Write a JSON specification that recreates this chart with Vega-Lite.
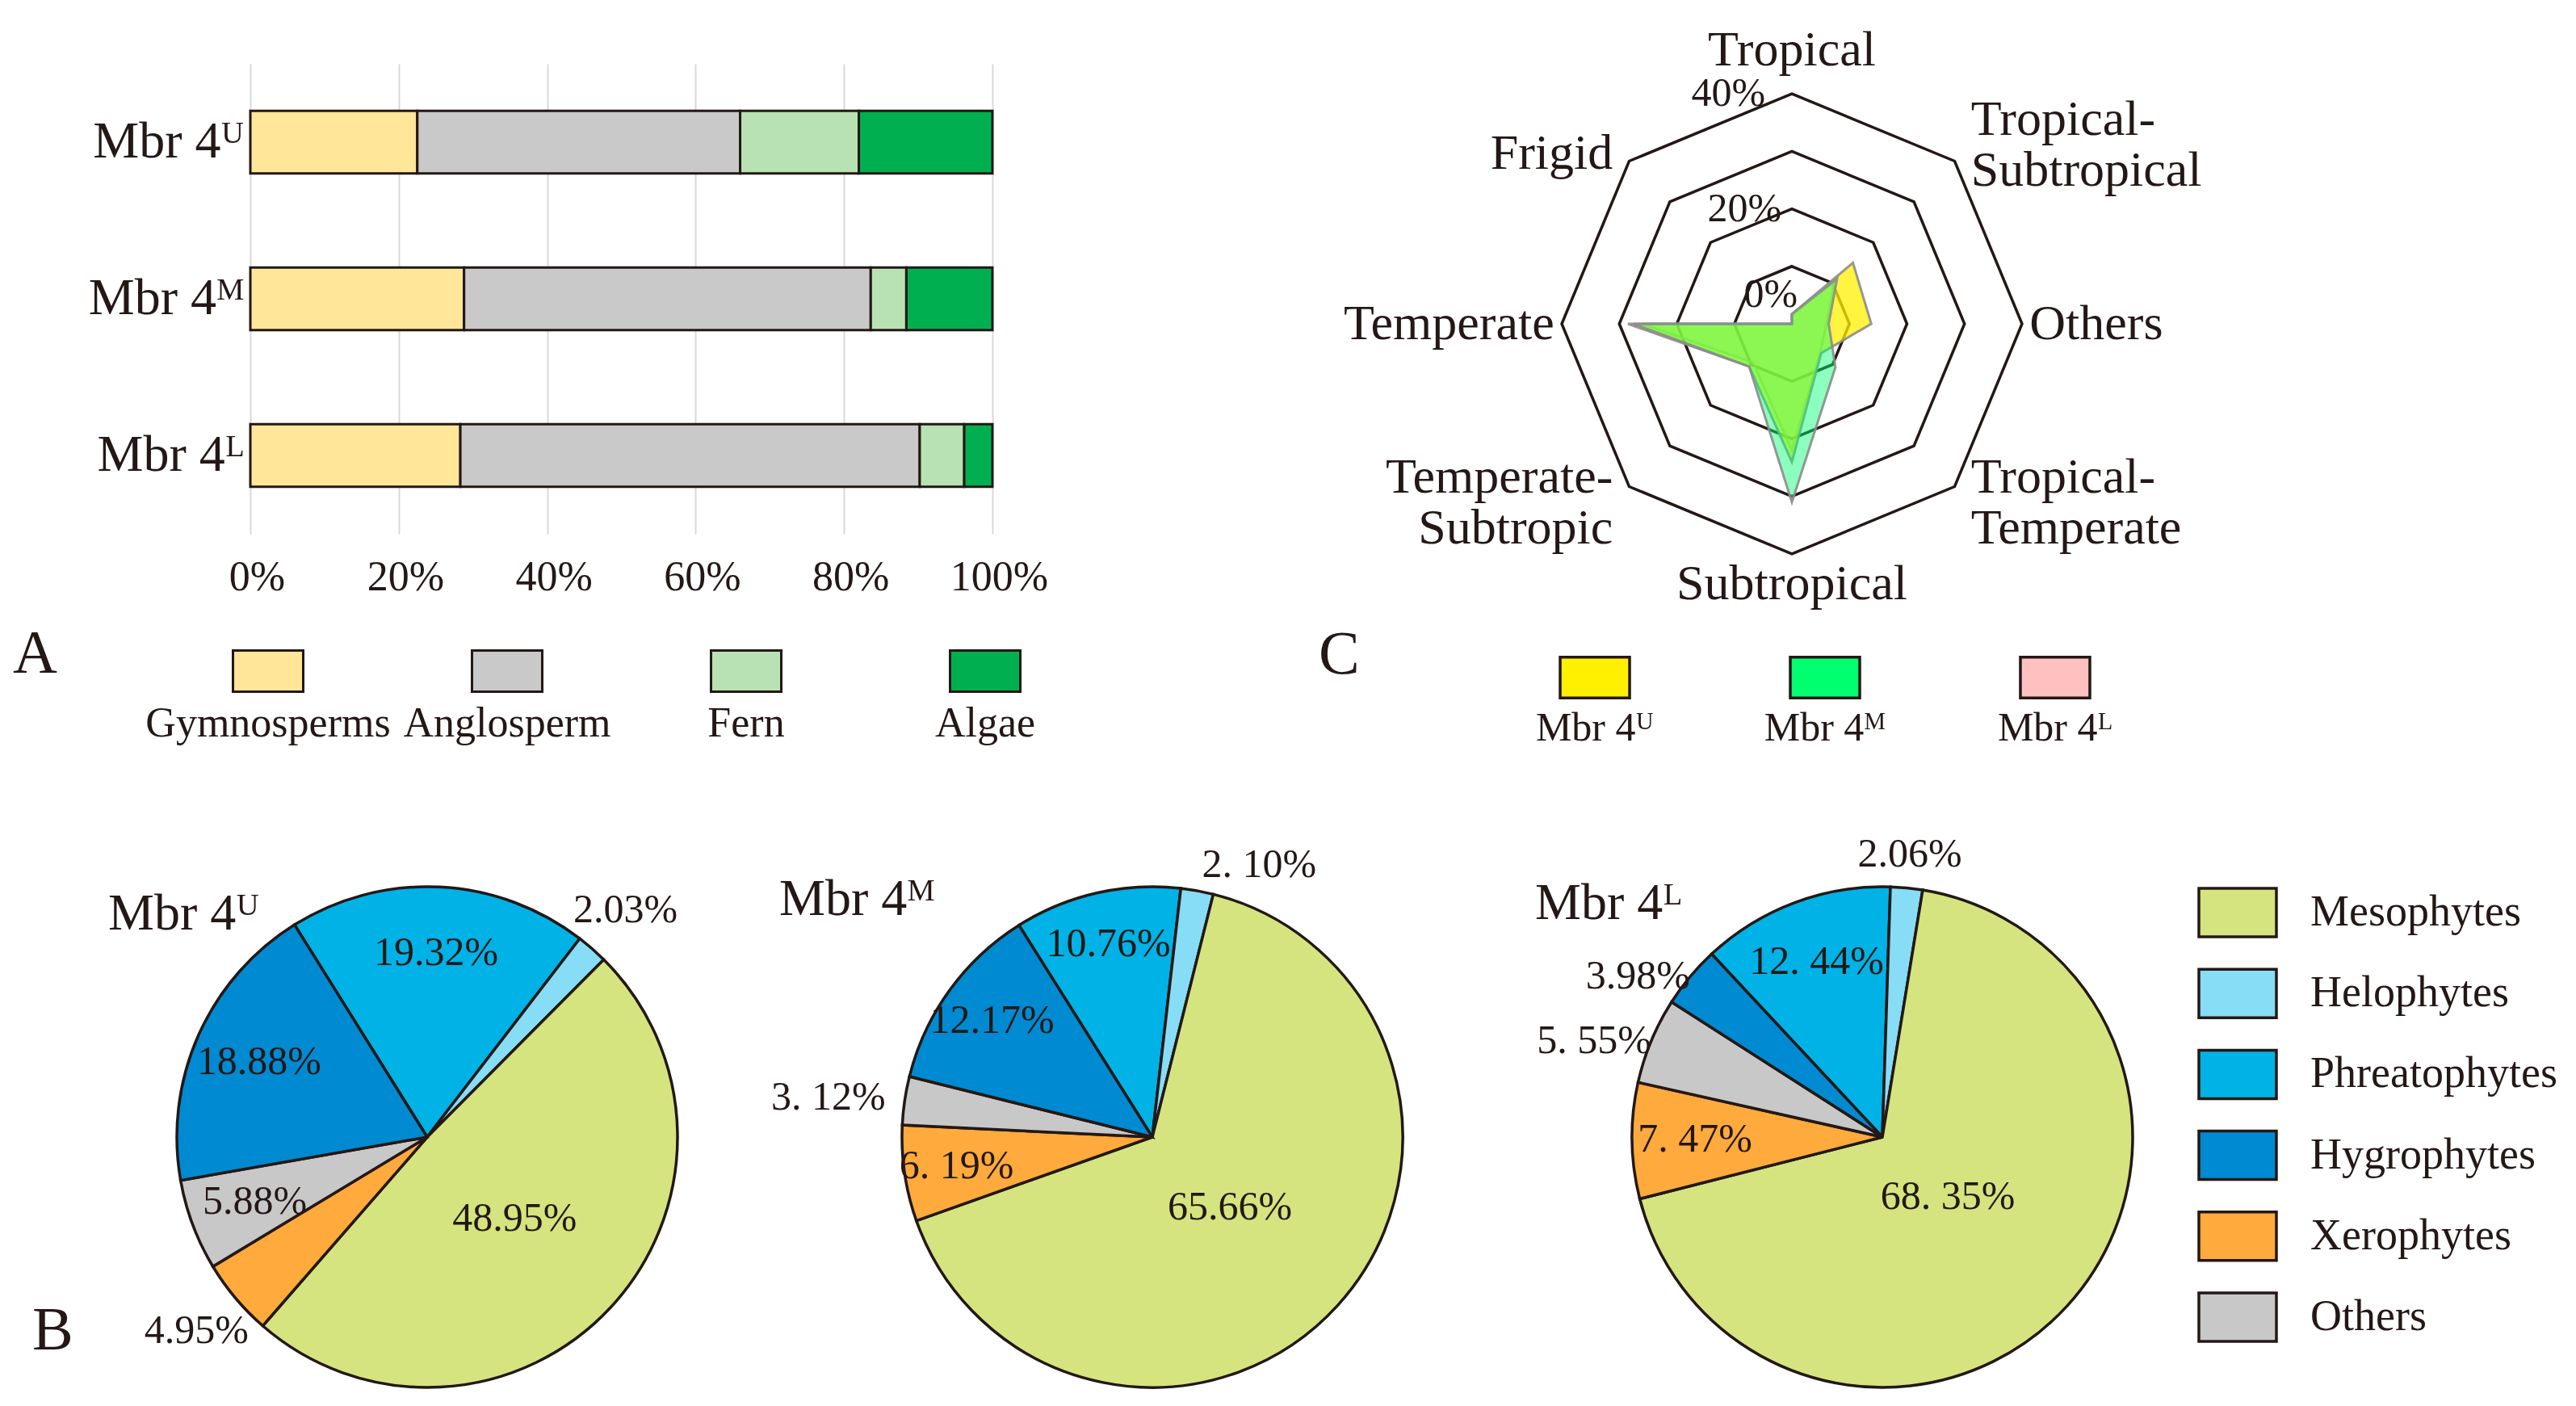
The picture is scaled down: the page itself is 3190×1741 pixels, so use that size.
{
  "$schema": "https://vega.github.io/schema/vega-lite/v6.json",
  "background": "white",
  "padding": {"left": 16, "top": 30, "right": 10, "bottom": 10},
  "config": {
    "font": "Liberation Serif",
    "view": {"stroke": null},
    "text": {"color": "#231815", "font": "Liberation Serif, DejaVu Serif"},
    "title": {"font": "Liberation Serif, DejaVu Serif", "fontWeight": "normal", "color": "#231815"},
    "axis": {"labelFont": "Liberation Serif, DejaVu Serif", "labelColor": "#231815"}
  },
  "datasets": {
    "bars": [
      {"member": "Mbr 4ᵁ", "group": "Gymnosperms", "pct": 22.5},
      {"member": "Mbr 4ᵁ", "group": "Anglosperm", "pct": 43.5},
      {"member": "Mbr 4ᵁ", "group": "Fern", "pct": 16.0},
      {"member": "Mbr 4ᵁ", "group": "Algae", "pct": 18.0},
      {"member": "Mbr 4ᴹ", "group": "Gymnosperms", "pct": 28.8},
      {"member": "Mbr 4ᴹ", "group": "Anglosperm", "pct": 54.8},
      {"member": "Mbr 4ᴹ", "group": "Fern", "pct": 4.8},
      {"member": "Mbr 4ᴹ", "group": "Algae", "pct": 11.6},
      {"member": "Mbr 4ᴸ", "group": "Gymnosperms", "pct": 28.3},
      {"member": "Mbr 4ᴸ", "group": "Anglosperm", "pct": 61.9},
      {"member": "Mbr 4ᴸ", "group": "Fern", "pct": 6.0},
      {"member": "Mbr 4ᴸ", "group": "Algae", "pct": 3.8}
    ],
    "pies": [
      {"member": "U", "group": "Phreatophytes", "pct": 19.32, "label": "19.32%"},
      {"member": "U", "group": "Helophytes", "pct": 2.03, "label": "2.03%"},
      {"member": "U", "group": "Mesophytes", "pct": 48.95, "label": "48.95%"},
      {"member": "U", "group": "Xerophytes", "pct": 4.95, "label": "4.95%"},
      {"member": "U", "group": "Others", "pct": 5.88, "label": "5.88%"},
      {"member": "U", "group": "Hygrophytes", "pct": 18.88, "label": "18.88%"},
      {"member": "M", "group": "Phreatophytes", "pct": 10.76, "label": "10.76%"},
      {"member": "M", "group": "Helophytes", "pct": 2.10, "label": "2. 10%"},
      {"member": "M", "group": "Mesophytes", "pct": 65.66, "label": "65.66%"},
      {"member": "M", "group": "Xerophytes", "pct": 6.19, "label": "6. 19%"},
      {"member": "M", "group": "Others", "pct": 3.12, "label": "3. 12%"},
      {"member": "M", "group": "Hygrophytes", "pct": 12.17, "label": "12.17%"},
      {"member": "L", "group": "Phreatophytes", "pct": 12.44, "label": "12. 44%"},
      {"member": "L", "group": "Helophytes", "pct": 2.06, "label": "2.06%"},
      {"member": "L", "group": "Mesophytes", "pct": 68.35, "label": "68. 35%"},
      {"member": "L", "group": "Xerophytes", "pct": 7.47, "label": "7. 47%"},
      {"member": "L", "group": "Others", "pct": 5.55, "label": "5. 55%"},
      {"member": "L", "group": "Hygrophytes", "pct": 3.98, "label": "3.98%"}
    ],
    "radar": [
      {"series": "Mbr 4ᵁ", "axis": "Tropical", "v": 1.7},
      {"series": "Mbr 4ᵁ", "axis": "Tropical-Subtropical", "v": 15.0},
      {"series": "Mbr 4ᵁ", "axis": "Others", "v": 13.8},
      {"series": "Mbr 4ᵁ", "axis": "Tropical-Temperate", "v": 7.2},
      {"series": "Mbr 4ᵁ", "axis": "Subtropical", "v": 24.0},
      {"series": "Mbr 4ᵁ", "axis": "Temperate-Subtropic", "v": 10.5},
      {"series": "Mbr 4ᵁ", "axis": "Temperate", "v": 28.5},
      {"series": "Mbr 4ᵁ", "axis": "Frigid", "v": 0},
      {"series": "Mbr 4ᴹ", "axis": "Tropical", "v": 1.7},
      {"series": "Mbr 4ᴹ", "axis": "Tropical-Subtropical", "v": 11.1},
      {"series": "Mbr 4ᴹ", "axis": "Others", "v": 6.4},
      {"series": "Mbr 4ᴹ", "axis": "Tropical-Temperate", "v": 10.7},
      {"series": "Mbr 4ᴹ", "axis": "Subtropical", "v": 31.0},
      {"series": "Mbr 4ᴹ", "axis": "Temperate-Subtropic", "v": 10.5},
      {"series": "Mbr 4ᴹ", "axis": "Temperate", "v": 27.5},
      {"series": "Mbr 4ᴹ", "axis": "Frigid", "v": 0},
      {"series": "Mbr 4ᴸ", "axis": "Tropical", "v": 1.5},
      {"series": "Mbr 4ᴸ", "axis": "Tropical-Subtropical", "v": 10.5},
      {"series": "Mbr 4ᴸ", "axis": "Others", "v": 6.0},
      {"series": "Mbr 4ᴸ", "axis": "Tropical-Temperate", "v": 7.0},
      {"series": "Mbr 4ᴸ", "axis": "Subtropical", "v": 22.0},
      {"series": "Mbr 4ᴸ", "axis": "Temperate-Subtropic", "v": 9.5},
      {"series": "Mbr 4ᴸ", "axis": "Temperate", "v": 26.0},
      {"series": "Mbr 4ᴸ", "axis": "Frigid", "v": 0}
    ],
    "rings": [
      {"ring": 10, "axis": "Tropical"}, {"ring": 10, "axis": "Tropical-Subtropical"}, {"ring": 10, "axis": "Others"}, {"ring": 10, "axis": "Tropical-Temperate"},
      {"ring": 10, "axis": "Subtropical"}, {"ring": 10, "axis": "Temperate-Subtropic"}, {"ring": 10, "axis": "Temperate"}, {"ring": 10, "axis": "Frigid"},
      {"ring": 20, "axis": "Tropical"}, {"ring": 20, "axis": "Tropical-Subtropical"}, {"ring": 20, "axis": "Others"}, {"ring": 20, "axis": "Tropical-Temperate"},
      {"ring": 20, "axis": "Subtropical"}, {"ring": 20, "axis": "Temperate-Subtropic"}, {"ring": 20, "axis": "Temperate"}, {"ring": 20, "axis": "Frigid"},
      {"ring": 30, "axis": "Tropical"}, {"ring": 30, "axis": "Tropical-Subtropical"}, {"ring": 30, "axis": "Others"}, {"ring": 30, "axis": "Tropical-Temperate"},
      {"ring": 30, "axis": "Subtropical"}, {"ring": 30, "axis": "Temperate-Subtropic"}, {"ring": 30, "axis": "Temperate"}, {"ring": 30, "axis": "Frigid"},
      {"ring": 40, "axis": "Tropical"}, {"ring": 40, "axis": "Tropical-Subtropical"}, {"ring": 40, "axis": "Others"}, {"ring": 40, "axis": "Tropical-Temperate"},
      {"ring": 40, "axis": "Subtropical"}, {"ring": 40, "axis": "Temperate-Subtropic"}, {"ring": 40, "axis": "Temperate"}, {"ring": 40, "axis": "Frigid"}
    ],
    "radarTicks": [
      {"tick": "40%", "level": 40},
      {"tick": "20%", "level": 20},
      {"tick": "0%", "level": 0}
    ],
    "radarAxes": [
      {"axis": "Tropical", "label": "Tropical"},
      {"axis": "Tropical-Subtropical", "label": "Tropical-\nSubtropical"},
      {"axis": "Others", "label": "Others"},
      {"axis": "Tropical-Temperate", "label": "Tropical-\nTemperate"},
      {"axis": "Subtropical", "label": "Subtropical"},
      {"axis": "Temperate-Subtropic", "label": "Temperate-\nSubtropic"},
      {"axis": "Temperate", "label": "Temperate"},
      {"axis": "Frigid", "label": "Frigid"}
    ]
  },
  "resolve": {"scale": {"color": "independent", "theta": "independent"}},
  "bounds": "full",
  "spacing": 83,
  "vconcat": [
    {
      "hconcat": [
        {
          "vconcat": [
            {
              "width": 919,
              "height": 582,
              "data": {"name": "bars"},
              "transform": [{"calculate": "indexof(['Gymnosperms','Anglosperm','Fern','Algae'], datum.group)", "as": "gi"}],
              "mark": {"type": "bar", "stroke": "#231815", "strokeWidth": 3},
              "encoding": {
                "y": {
                  "field": "member", "type": "nominal",
                  "sort": ["Mbr 4ᵁ", "Mbr 4ᴹ", "Mbr 4ᴸ"],
                  "scale": {"paddingInner": 0.6, "paddingOuter": 0.3},
                  "axis": {"title": null, "domain": false, "ticks": false, "grid": false, "labelFontSize": 64, "labelPadding": 8, "labelLimit": 0}
                },
                "x": {
                  "field": "pct", "type": "quantitative", "stack": "normalize",
                  "axis": {"title": null, "format": ".0%", "values": [0, 0.2, 0.4, 0.6, 0.8, 1], "domain": false, "ticks": false, "grid": true, "gridColor": "#D9D9D9", "gridWidth": 2, "labelFontSize": 52, "labelPadding": 28, "labelFlush": false, "labelOffset": 8}
                },
                "color": {
                  "field": "group", "type": "nominal",
                  "scale": {"domain": ["Gymnosperms", "Anglosperm", "Fern", "Algae"], "range": ["#FFE699", "#C9C9C9", "#B8E2B4", "#00B050"]},
                  "legend": null
                },
                "order": {"field": "gi", "type": "quantitative"}
              }
            },
            {
              "width": 932,
              "height": 100,
              "data": {"name": "bars"},
              "transform": [{"aggregate": [{"op": "count", "as": "n"}], "groupby": ["group"]}],
              "encoding": {
                "x": {"field": "group", "type": "nominal", "sort": ["Gymnosperms", "Anglosperm", "Fern", "Algae"], "scale": {"type": "point", "padding": 0.0743}, "axis": null}
              },
              "layer": [
                {
                  "mark": {"type": "point", "shape": "M-1,-0.586H1V0.586H-1Z", "size": 7569, "filled": true, "opacity": 1, "stroke": "#231815", "strokeWidth": 3},
                  "encoding": {
                    "color": {"field": "group", "type": "nominal", "scale": {"domain": ["Gymnosperms", "Anglosperm", "Fern", "Algae"], "range": ["#FFE699", "#C9C9C9", "#B8E2B4", "#00B050"]}, "legend": null}
                  }
                },
                {
                  "mark": {"type": "text", "dy": 65, "fontSize": 52, "baseline": "middle"},
                  "encoding": {"text": {"field": "group", "type": "nominal"}}
                }
              ],
              "title": {"text": "A", "orient": "bottom", "anchor": "start", "frame": "group", "align": "left", "offset": 0, "dx": -294, "dy": -112, "fontSize": 76, "baseline": "middle"}
            }
          ],
          "spacing": 120,
          "bounds": "flush",
          "resolve": {"scale": {"color": "independent"}}
        },
        {
          "vconcat": [
            {
              "width": 684,
              "height": 644,
              "layer": [
                {
                  "data": {"name": "rings"},
                  "transform": [
                    {"calculate": "indexof(['Tropical','Tropical-Subtropical','Others','Tropical-Temperate','Subtropical','Temperate-Subtropic','Temperate','Frigid'], datum.axis)", "as": "k"},
                    {"calculate": "datum.ring * sin(datum.k * PI / 4)", "as": "px"},
                    {"calculate": "datum.ring * cos(datum.k * PI / 4)", "as": "py"}
                  ],
                  "mark": {"type": "line", "interpolate": "linear-closed", "stroke": "#231815", "strokeWidth": 3.5},
                  "encoding": {
                    "x": {"field": "px", "type": "quantitative", "scale": {"domain": [-48, 48], "nice": false, "zero": false}, "axis": null},
                    "y": {"field": "py", "type": "quantitative", "scale": {"domain": [-45.2, 45.2], "nice": false, "zero": false}, "axis": null},
                    "detail": {"field": "ring", "type": "nominal"},
                    "order": {"field": "k", "type": "quantitative"}
                  }
                },
                {
                  "data": {"name": "radar"},
                  "transform": [
                    {"calculate": "indexof(['Tropical','Tropical-Subtropical','Others','Tropical-Temperate','Subtropical','Temperate-Subtropic','Temperate','Frigid'], datum.axis)", "as": "k"},
                    {"calculate": "datum.v * sin(datum.k * PI / 4)", "as": "px"},
                    {"calculate": "datum.v * cos(datum.k * PI / 4)", "as": "py"}
                  ],
                  "encoding": {
                    "x": {"field": "px", "type": "quantitative", "scale": {"domain": [-48, 48], "nice": false, "zero": false}, "axis": null},
                    "y": {"field": "py", "type": "quantitative", "scale": {"domain": [-45.2, 45.2], "nice": false, "zero": false}, "axis": null},
                    "order": {"field": "k", "type": "quantitative"}
                  },
                  "layer": [
                    {
                      "transform": [{"filter": "datum.series == 'Mbr 4ᴸ'"}],
                      "mark": {"type": "line", "interpolate": "linear-closed", "fill": "#FFC0C0", "fillOpacity": 0.25, "stroke": "#8C8C8C", "strokeWidth": 3, "strokeOpacity": 0.8}
                    },
                    {
                      "transform": [{"filter": "datum.series == 'Mbr 4ᵁ'"}],
                      "mark": {"type": "line", "interpolate": "linear-closed", "fill": "#FFF000", "fillOpacity": 0.75, "stroke": "#8C8C8C", "strokeWidth": 3, "strokeOpacity": 0.9}
                    },
                    {
                      "transform": [{"filter": "datum.series == 'Mbr 4ᴹ'"}],
                      "mark": {"type": "line", "interpolate": "linear-closed", "fill": "#00FF6E", "fillOpacity": 0.45, "stroke": "#8C8C8C", "strokeWidth": 3, "strokeOpacity": 0.9}
                    }
                  ]
                },
                {
                  "data": {"name": "radarTicks"},
                  "transform": [
                    {"calculate": "1 - 0.14 * datum.level", "as": "tx"},
                    {"calculate": "max(datum.level, 5)", "as": "ty"}
                  ],
                  "mark": {"type": "text", "align": "right", "baseline": "middle", "fontSize": 50},
                  "encoding": {
                    "x": {"field": "tx", "type": "quantitative", "scale": {"domain": [-48, 48], "nice": false, "zero": false}, "axis": null},
                    "y": {"field": "ty", "type": "quantitative", "scale": {"domain": [-45.2, 45.2], "nice": false, "zero": false}, "axis": null},
                    "text": {"field": "tick", "type": "nominal"}
                  }
                },
                {
                  "data": {"name": "radarAxes"},
                  "transform": [
                    {"calculate": "indexof(['Tropical','Tropical-Subtropical','Others','Tropical-Temperate','Subtropical','Temperate-Subtropic','Temperate','Frigid'], datum.axis)", "as": "k"},
                    {"calculate": "datum.k == 0 ? 47.6 : (datum.k == 4 ? 45.2 : (datum.k % 2 == 1 ? 44 : 41.3))", "as": "R"},
                    {"calculate": "datum.R * sin(datum.k * PI / 4)", "as": "lx"},
                    {"calculate": "datum.R * cos(datum.k * PI / 4) + (indexof(datum.label, '\\n') >= 0 ? 4.4 : 0) - (datum.k == 7 ? 1.5 : 0)", "as": "ly"}
                  ],
                  "encoding": {
                    "x": {"field": "lx", "type": "quantitative", "scale": {"domain": [-48, 48], "nice": false, "zero": false}, "axis": null},
                    "y": {"field": "ly", "type": "quantitative", "scale": {"domain": [-45.2, 45.2], "nice": false, "zero": false}, "axis": null},
                    "text": {"field": "label", "type": "nominal"}
                  },
                  "layer": [
                    {"transform": [{"filter": "datum.k == 0 || datum.k == 4"}], "mark": {"type": "text", "align": "center", "baseline": "middle", "fontSize": 62, "lineBreak": "\n", "lineHeight": 63}},
                    {"transform": [{"filter": "datum.k >= 1 && datum.k <= 3"}], "mark": {"type": "text", "align": "left", "baseline": "middle", "fontSize": 62, "lineBreak": "\n", "lineHeight": 63}},
                    {"transform": [{"filter": "datum.k >= 5"}], "mark": {"type": "text", "align": "right", "baseline": "middle", "fontSize": 62, "lineBreak": "\n", "lineHeight": 63}}
                  ]
                }
              ]
            },
            {
              "width": 766,
              "height": 100,
              "data": {"name": "radar"},
              "transform": [{"aggregate": [{"op": "count", "as": "n"}], "groupby": ["series"]}],
              "encoding": {
                "x": {"field": "series", "type": "nominal", "sort": ["Mbr 4ᵁ", "Mbr 4ᴹ", "Mbr 4ᴸ"], "scale": {"type": "point", "padding": 0.344}, "axis": null}
              },
              "layer": [
                {
                  "mark": {"type": "point", "shape": "M-1,-0.586H1V0.586H-1Z", "size": 7400, "filled": true, "opacity": 1, "stroke": "#231815", "strokeWidth": 3.5},
                  "encoding": {
                    "color": {"field": "series", "type": "nominal", "scale": {"domain": ["Mbr 4ᵁ", "Mbr 4ᴹ", "Mbr 4ᴸ"], "range": ["#FFF000", "#00FF6E", "#FFC0C0"]}, "legend": null}
                  }
                },
                {
                  "mark": {"type": "text", "dy": 63, "fontSize": 50, "baseline": "middle"},
                  "encoding": {"text": {"field": "series", "type": "nominal"}}
                }
              ],
              "title": {"text": "C", "orient": "bottom", "anchor": "start", "frame": "group", "align": "left", "offset": 0, "dx": -244, "dy": -116, "fontSize": 76, "baseline": "middle"}
            }
          ],
          "spacing": 66,
          "bounds": "flush",
          "resolve": {"scale": {"color": "independent"}}
        }
      ],
      "spacing": 335,
      "bounds": "full",
      "resolve": {"scale": {"color": "independent"}}
    },
    {
      "hconcat": [
        {
          "width": 438,
          "height": 620,
          "data": {"name": "pies"},
          "transform": [
            {"filter": "datum.member == 'U'"},
            {"calculate": "indexof(['Phreatophytes','Helophytes','Mesophytes','Xerophytes','Others','Hygrophytes'], datum.group)", "as": "gi"}
          ],
          "encoding": {
            "theta": {"field": "pct", "type": "quantitative", "stack": true, "scale": {"range": [-0.5585, 5.7247]}},
            "order": {"field": "gi", "type": "quantitative"}
          },
          "layer": [
            {
              "mark": {"type": "arc", "outerRadius": 310, "stroke": "#231815", "strokeWidth": 3.5},
              "encoding": {
                "color": {"field": "group", "type": "nominal", "scale": {"domain": ["Mesophytes", "Helophytes", "Phreatophytes", "Hygrophytes", "Xerophytes", "Others"], "range": ["#D5E47F", "#86DDF5", "#00B2E6", "#008AD2", "#FFAA3C", "#C8C8C8"]}, "legend": null}
              }
            },
            {"mark": {"type": "text", "radius": 228, "fontSize": 50, "baseline": "middle"}, "encoding": {"text": {"condition": {"test": "datum.group != 'Mesophytes' && datum.pct >= 5.5", "field": "label", "type": "nominal"}, "value": ""}}},
            {"mark": {"type": "text", "radius": 148, "fontSize": 50, "baseline": "middle"}, "encoding": {"text": {"condition": {"test": "datum.group == 'Mesophytes'", "field": "label", "type": "nominal"}, "value": ""}}},
            {"mark": {"type": "text", "radius": 373, "fontSize": 50, "baseline": "middle"}, "encoding": {"text": {"condition": {"test": "datum.pct < 5.5", "field": "label", "type": "nominal"}, "value": ""}}}
          ],
          "title": {"text": "Mbr 4ᵁ", "orient": "top", "anchor": "start", "frame": "group", "align": "left", "offset": 0, "dx": -176, "dy": 186, "fontSize": 64, "baseline": "middle"}
        },
        {
          "width": 1358,
          "height": 620,
          "data": {"name": "pies"},
          "transform": [
            {"filter": "datum.member == 'M'"},
            {"calculate": "indexof(['Phreatophytes','Helophytes','Mesophytes','Xerophytes','Others','Hygrophytes'], datum.group)", "as": "gi"}
          ],
          "encoding": {
            "theta": {"field": "pct", "type": "quantitative", "stack": true, "scale": {"range": [-0.562, 5.7212]}},
            "order": {"field": "gi", "type": "quantitative"}
          },
          "layer": [
            {
              "mark": {"type": "arc", "outerRadius": 310, "stroke": "#231815", "strokeWidth": 3.5},
              "encoding": {
                "color": {"field": "group", "type": "nominal", "scale": {"domain": ["Mesophytes", "Helophytes", "Phreatophytes", "Hygrophytes", "Xerophytes", "Others"], "range": ["#D5E47F", "#86DDF5", "#00B2E6", "#008AD2", "#FFAA3C", "#C8C8C8"]}, "legend": null}
              }
            },
            {"mark": {"type": "text", "radius": 245, "fontSize": 50, "baseline": "middle"}, "encoding": {"text": {"condition": {"test": "datum.group != 'Mesophytes' && datum.pct >= 3.5", "field": "label", "type": "nominal"}, "value": ""}}},
            {"mark": {"type": "text", "radius": 130, "fontSize": 50, "baseline": "middle"}, "encoding": {"text": {"condition": {"test": "datum.group == 'Mesophytes'", "field": "label", "type": "nominal"}, "value": ""}}},
            {"mark": {"type": "text", "radius": 343, "fontSize": 50, "baseline": "middle", "align": "left"}, "encoding": {"text": {"condition": {"test": "datum.group == 'Helophytes'", "field": "label", "type": "nominal"}, "value": ""}}},
            {"mark": {"type": "text", "radius": 334, "fontSize": 50, "baseline": "middle", "align": "right"}, "encoding": {"text": {"condition": {"test": "datum.group == 'Others'", "field": "label", "type": "nominal"}, "value": ""}}}
          ],
          "title": {"text": "Mbr 4ᴹ", "orient": "top", "anchor": "start", "frame": "group", "align": "left", "offset": 0, "dx": 217, "dy": 132, "fontSize": 64, "baseline": "middle"}
        },
        {
          "width": 450,
          "height": 620,
          "data": {"name": "pies"},
          "transform": [
            {"filter": "datum.member == 'L'"},
            {"calculate": "indexof(['Phreatophytes','Helophytes','Mesophytes','Xerophytes','Others','Hygrophytes'], datum.group)", "as": "gi"}
          ],
          "encoding": {
            "theta": {"field": "pct", "type": "quantitative", "stack": true, "scale": {"range": [-0.7505, 5.5327]}},
            "order": {"field": "gi", "type": "quantitative"}
          },
          "layer": [
            {
              "mark": {"type": "arc", "outerRadius": 310, "stroke": "#231815", "strokeWidth": 3.5},
              "encoding": {
                "color": {"field": "group", "type": "nominal", "scale": {"domain": ["Mesophytes", "Helophytes", "Phreatophytes", "Hygrophytes", "Xerophytes", "Others"], "range": ["#D5E47F", "#86DDF5", "#00B2E6", "#008AD2", "#FFAA3C", "#C8C8C8"]}, "legend": null}
              }
            },
            {"mark": {"type": "text", "radius": 232, "fontSize": 50, "baseline": "middle"}, "encoding": {"text": {"condition": {"test": "datum.group != 'Mesophytes' && datum.pct >= 6", "field": "label", "type": "nominal"}, "value": ""}}},
            {"mark": {"type": "text", "radius": 110, "fontSize": 50, "baseline": "middle"}, "encoding": {"text": {"condition": {"test": "datum.group == 'Mesophytes'", "field": "label", "type": "nominal"}, "value": ""}}},
            {"mark": {"type": "text", "radius": 352, "fontSize": 50, "baseline": "middle"}, "encoding": {"text": {"condition": {"test": "datum.group == 'Helophytes'", "field": "label", "type": "nominal"}, "value": ""}}},
            {"mark": {"type": "text", "radius": 310, "fontSize": 50, "baseline": "middle", "align": "right"}, "encoding": {"text": {"condition": {"test": "datum.group == 'Others' || datum.group == 'Hygrophytes'", "field": "label", "type": "nominal"}, "value": ""}}}
          ],
          "title": {"text": "Mbr 4ᴸ", "orient": "top", "anchor": "start", "frame": "group", "align": "left", "offset": 0, "dx": -205, "dy": 150, "fontSize": 64, "baseline": "middle"}
        },
        {
          "width": 430,
          "height": 565,
          "data": {"name": "pies"},
          "transform": [{"aggregate": [{"op": "count", "as": "n"}], "groupby": ["group"]}],
          "encoding": {
            "y": {"field": "group", "type": "nominal", "sort": ["Mesophytes", "Helophytes", "Phreatophytes", "Hygrophytes", "Xerophytes", "Others"], "scale": {"type": "point", "padding": 0.32}, "axis": null}
          },
          "layer": [
            {
              "mark": {"type": "point", "shape": "M-1,-0.625H1V0.625H-1Z", "size": 9216, "filled": true, "opacity": 1, "stroke": "#231815", "strokeWidth": 3.5},
              "encoding": {
                "color": {"field": "group", "type": "nominal", "scale": {"domain": ["Mesophytes", "Helophytes", "Phreatophytes", "Hygrophytes", "Xerophytes", "Others"], "range": ["#D5E47F", "#86DDF5", "#00B2E6", "#008AD2", "#FFAA3C", "#C8C8C8"]}, "legend": null}
              }
            },
            {
              "mark": {"type": "text", "align": "left", "dx": 90, "fontSize": 54, "baseline": "middle"},
              "encoding": {"text": {"field": "group", "type": "nominal"}}
            }
          ]
        }
      ],
      "spacing": 0,
      "bounds": "flush",
      "resolve": {"scale": {"color": "independent", "theta": "independent"}},
      "title": {"text": "B", "orient": "bottom", "anchor": "start", "frame": "group", "align": "left", "offset": 0, "dx": -270, "dy": -77, "fontSize": 76, "baseline": "middle"}
    }
  ]
}
